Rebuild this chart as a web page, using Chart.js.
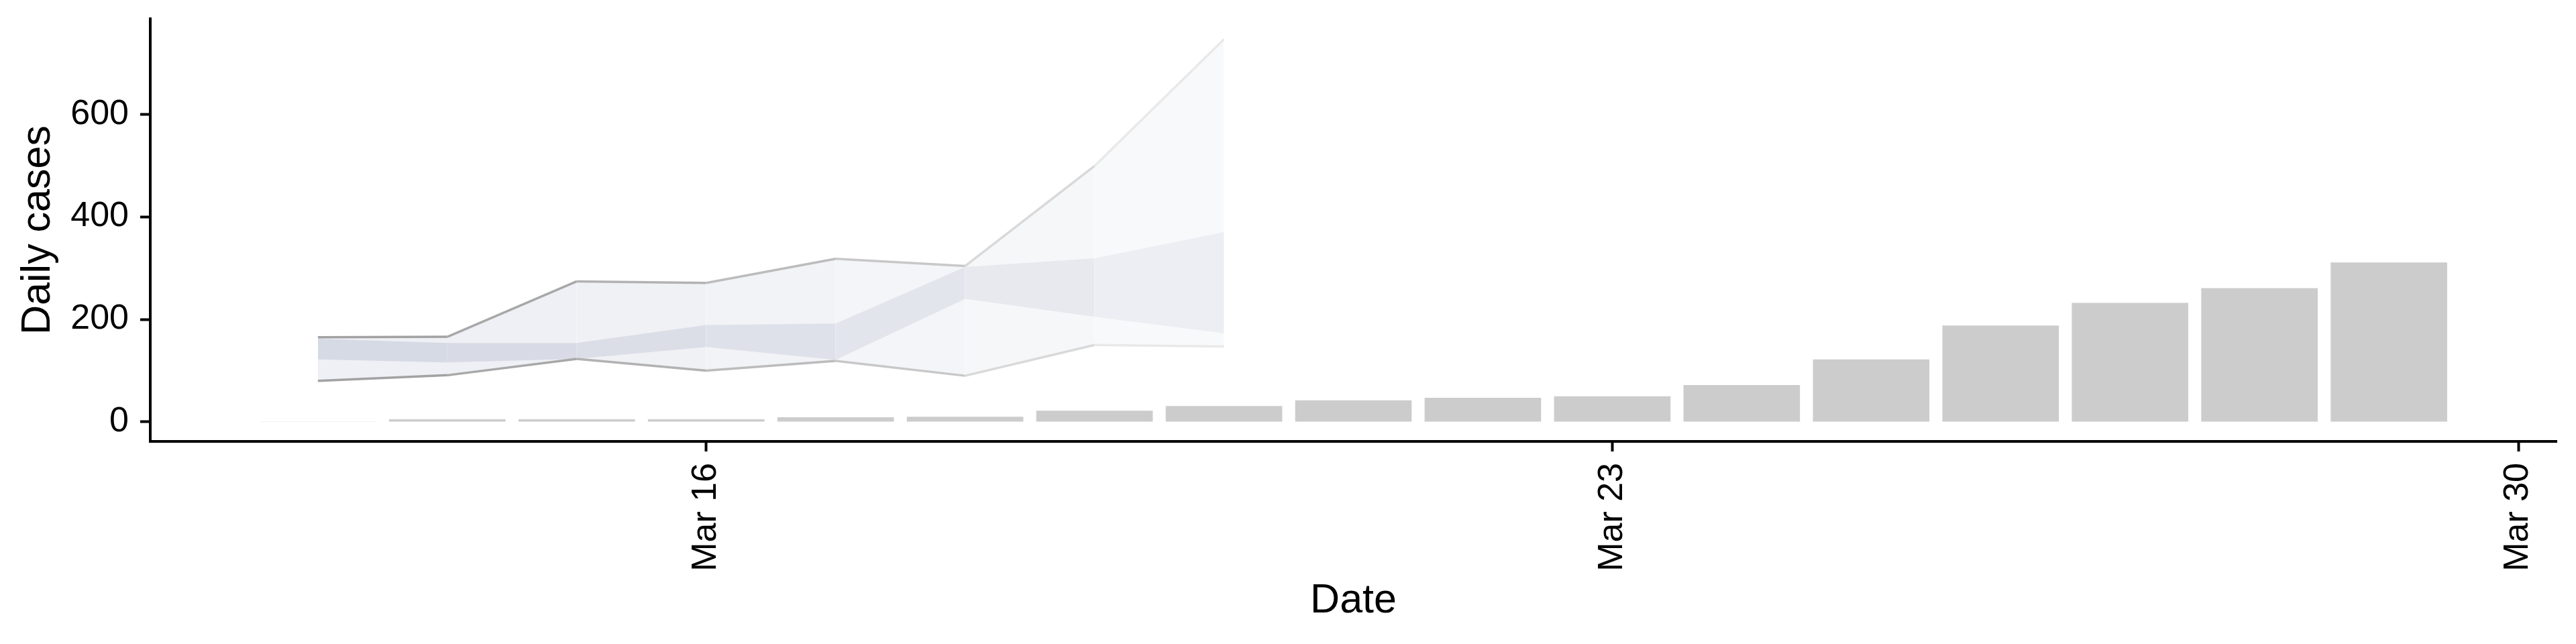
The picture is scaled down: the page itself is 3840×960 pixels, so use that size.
<!DOCTYPE html>
<html>
<head>
<meta charset="utf-8">
<script src="https://cdn.jsdelivr.net/npm/chart.js@4/dist/chart.umd.min.js"></script>
<style>
  html, body { margin: 0; padding: 0; background: #ffffff; }
  #wrap { width: 3840px; height: 960px; position: relative; }
</style>
</head>
<body>
<div id="wrap"><canvas id="c" width="3840" height="960"></canvas></div>
<script>
// ---------- data ----------
const dates = ['Mar 13','Mar 14','Mar 15','Mar 16','Mar 17','Mar 18','Mar 19','Mar 20','Mar 21',
               'Mar 22','Mar 23','Mar 24','Mar 25','Mar 26','Mar 27','Mar 28','Mar 29'];
const dailyCases = [1, 5, 5, 5, 9, 10, 22, 31, 42, 47, 50, 72, 122, 188, 232, 261, 311];

const ribbonDates = ['Mar 13','Mar 14','Mar 15','Mar 16','Mar 17','Mar 18','Mar 19','Mar 20'];
const outerLower = [80, 91, 123, 100, 119, 90, 150, 147];
const outerUpper = [165, 166, 274, 271, 318, 304, 499, 746];
const innerLower = [122, 116, 123, 146, 121, 240, 205, 173];
const innerUpper = [162, 154, 154, 189, 192, 302, 319, 370];

const xTickLabels = ['Mar 16', 'Mar 23', 'Mar 30'];
const yTickValues = [0, 200, 400, 600];

// ---------- styles ----------
const outerFill = ['#eff0f5','#eff0f5','#f0f1f5','#f2f3f6','#f4f5f8','#f6f7f9','#f8f9fa'];
const innerFill = ['#d6dae4','#d8dbe5','#dbdee7','#dfe1ea','#e3e5ed','#e8e9ef','#eceef3'];
const edgeColor = ['#a2a2a2','#a8a8a8','#b2b2b2','#bcbcbc','#c8c8c8','#d9d9d9','#e9e9e9'];

// ---------- helpers ----------
const REF = Date.UTC(2020, 2, 16);
function dayOffset(label) {
  const d = new Date(label + ' 2020 UTC');
  const t = Date.UTC(2020, d.getUTCMonth(), d.getUTCDate());
  return Math.round((t - REF) / 86400000);
}
const pts = (labels, vals) => labels.map((l, i) => ({ x: dayOffset(l), y: vals[i] }));

const xFirst = dayOffset(dates[0]) - 0.45;
const xLast = dayOffset(dates[dates.length - 1]) + 0.45;
const xPad = (xLast - xFirst) * 0.05;

const FONT = 'Liberation Sans, Arial, Helvetica, sans-serif';
const clear = 'rgba(0,0,0,0)';

const base = { type: 'line', pointRadius: 0, pointHoverRadius: 0, tension: 0, borderWidth: 0, borderColor: clear };

const datasets = [
  Object.assign({}, base, { label: 'outerLo', data: pts(ribbonDates, outerLower), fill: false, order: 4 }),
  Object.assign({}, base, { label: 'outerHi', data: pts(ribbonDates, outerUpper), fill: '-1', order: 4,
    backgroundColor: outerFill[0],
    segment: { backgroundColor: c => outerFill[c.p0DataIndex] } }),
  Object.assign({}, base, { label: 'innerLo', data: pts(ribbonDates, innerLower), fill: false, order: 3 }),
  Object.assign({}, base, { label: 'innerHi', data: pts(ribbonDates, innerUpper), fill: '-1', order: 3,
    backgroundColor: innerFill[0],
    segment: { backgroundColor: c => innerFill[c.p0DataIndex] } }),
  Object.assign({}, base, { label: 'edgeLo', data: pts(ribbonDates, outerLower), fill: false, order: 1,
    borderWidth: 3.5, borderColor: edgeColor[0], borderJoinStyle: 'miter',
    segment: { borderColor: c => edgeColor[c.p0DataIndex] } }),
  Object.assign({}, base, { label: 'edgeHi', data: pts(ribbonDates, outerUpper), fill: false, order: 1,
    borderWidth: 3.5, borderColor: edgeColor[0], borderJoinStyle: 'miter',
    segment: { borderColor: c => edgeColor[c.p0DataIndex] } }),
  { type: 'bar', label: 'Daily cases', data: pts(dates, dailyCases), backgroundColor: '#cccccc',
    borderWidth: 0, barPercentage: 0.9, categoryPercentage: 1.0, order: 5 }
];

new Chart(document.getElementById('c'), {
  type: 'bar',
  data: { datasets },
  options: {
    responsive: false,
    animation: false,
    devicePixelRatio: 1,
    layout: { padding: { left: 0, right: 29, top: 28, bottom: 0 } },
    plugins: { legend: { display: false }, tooltip: { enabled: false }, filler: { propagate: false } },
    scales: {
      x: {
        type: 'linear',
        position: 'bottom',
        offset: false,
        min: xFirst - xPad,
        max: xLast + xPad,
        afterBuildTicks: s => { s.ticks = xTickLabels.map(l => ({ value: dayOffset(l) })); },
        afterFit: s => { s.height = 960 - 658; s.paddingLeft = 0; s.paddingRight = 0; s.paddingTop = 0; s.paddingBottom = 0; },
        grid: { display: true, drawOnChartArea: false, drawTicks: true, tickLength: 15, tickWidth: 4, tickColor: '#000', offset: false },
        border: { display: true, color: '#000', width: 4 },
        ticks: {
          autoSkip: false, minRotation: 90, maxRotation: 90, padding: 17,
          color: '#000', font: { family: FONT, size: 52 },
          callback: v => { const i = xTickLabels.findIndex(l => dayOffset(l) === v); return i >= 0 ? xTickLabels[i] : ''; }
        },
        title: { display: true, text: 'Date', color: '#000', font: { family: FONT, size: 61 }, padding: { top: 0, bottom: 27 } }
      },
      y: {
        type: 'linear',
        position: 'left',
        min: -38,
        max: 786,
        afterBuildTicks: s => { s.ticks = yTickValues.map(v => ({ value: v })); },
        afterFit: s => { s.width = 224; s.paddingTop = 0; s.paddingBottom = 0; s.paddingLeft = 0; s.paddingRight = 0; },
        grid: { display: true, drawOnChartArea: false, drawTicks: true, tickLength: 15, tickWidth: 4, tickColor: '#000' },
        border: { display: true, color: '#000', width: 4 },
        ticks: { padding: 17, color: '#000', font: { family: FONT, size: 52 }, callback: v => String(v) },
        title: { display: true, text: 'Daily cases', color: '#000', font: { family: FONT, size: 61 }, padding: { top: 21, bottom: 0 } }
      }
    }
  }
});
</script>
</body>
</html>
